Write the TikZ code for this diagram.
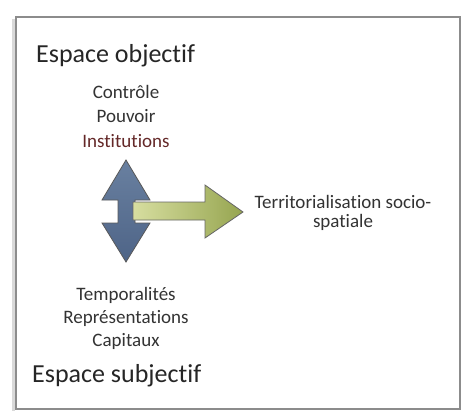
\documentclass[tikz,border=0pt]{standalone}
\usepackage{fontspec}
\setmainfont{Carlito}[Ligatures={NoCommon}]
\begin{document}
\begin{tikzpicture}[x=1pt,y=-1pt,
  bigtxt/.style={font=\fontsize{26}{28}\selectfont, text=black!85, inner sep=0pt},
  smalltxt/.style={font=\fontsize{19}{21}\selectfont, text=black!80, inner sep=0pt},
  frame/.style={draw=black!45, line width=2.5pt},
  bluearrow/.style={draw=black!65, line width=0.8pt, top color={rgb,255:red,105;green,128;blue,160}, bottom color={rgb,255:red,78;green,100;blue,135}},
  greenarrow/.style={draw=black!60, line width=0.8pt, left color={rgb,255:red,215;green,222;blue,160}, right color={rgb,255:red,150;green,165;blue,80}}
]
\useasboundingbox (0,0) rectangle (465,412);
\fill[white] (0,0) rectangle (465,412);
\draw[black!15, line width=3pt] (13,19) -- (13,411);
\draw[frame] (16,17) rectangle (460,409);

% vertical double arrow
\path[bluearrow]
  (126,160) -- (150,200) -- (135,200) -- (135,223) -- (150,223) -- (126,262)
  -- (102,223) -- (118,223) -- (118,200) -- (102,200) -- cycle;
% horizontal arrow
\path[greenarrow]
  (133,202) -- (205,202) -- (205,185) -- (243,212) -- (205,238) -- (205,220) -- (133,220) -- cycle;

\node[bigtxt, anchor=base west] (eo) at (36,63) {Espace objectif};
\node[smalltxt, anchor=base] (c1) at (126,98) {Contrôle};
\node[smalltxt, anchor=base] (c2) at (126,122) {Pouvoir};
\node[smalltxt, anchor=base, text={rgb,255:red,100;green,40;blue,40}] (c3) at (126,147) {Institutions};
\node[smalltxt, anchor=base] (t1) at (343,208) {Territorialisation socio-};
\node[smalltxt, anchor=base] (t2) at (343,227) {spatiale};
\node[smalltxt, anchor=base] (s1) at (126,300) {Temporalités};
\node[smalltxt, anchor=base] (s2) at (126,323) {Représentations};
\node[smalltxt, anchor=base] (s3) at (126,346) {Capitaux};
\node[bigtxt, anchor=base west] (es) at (32,382) {Espace subjectif};
\end{tikzpicture}
\end{document}
